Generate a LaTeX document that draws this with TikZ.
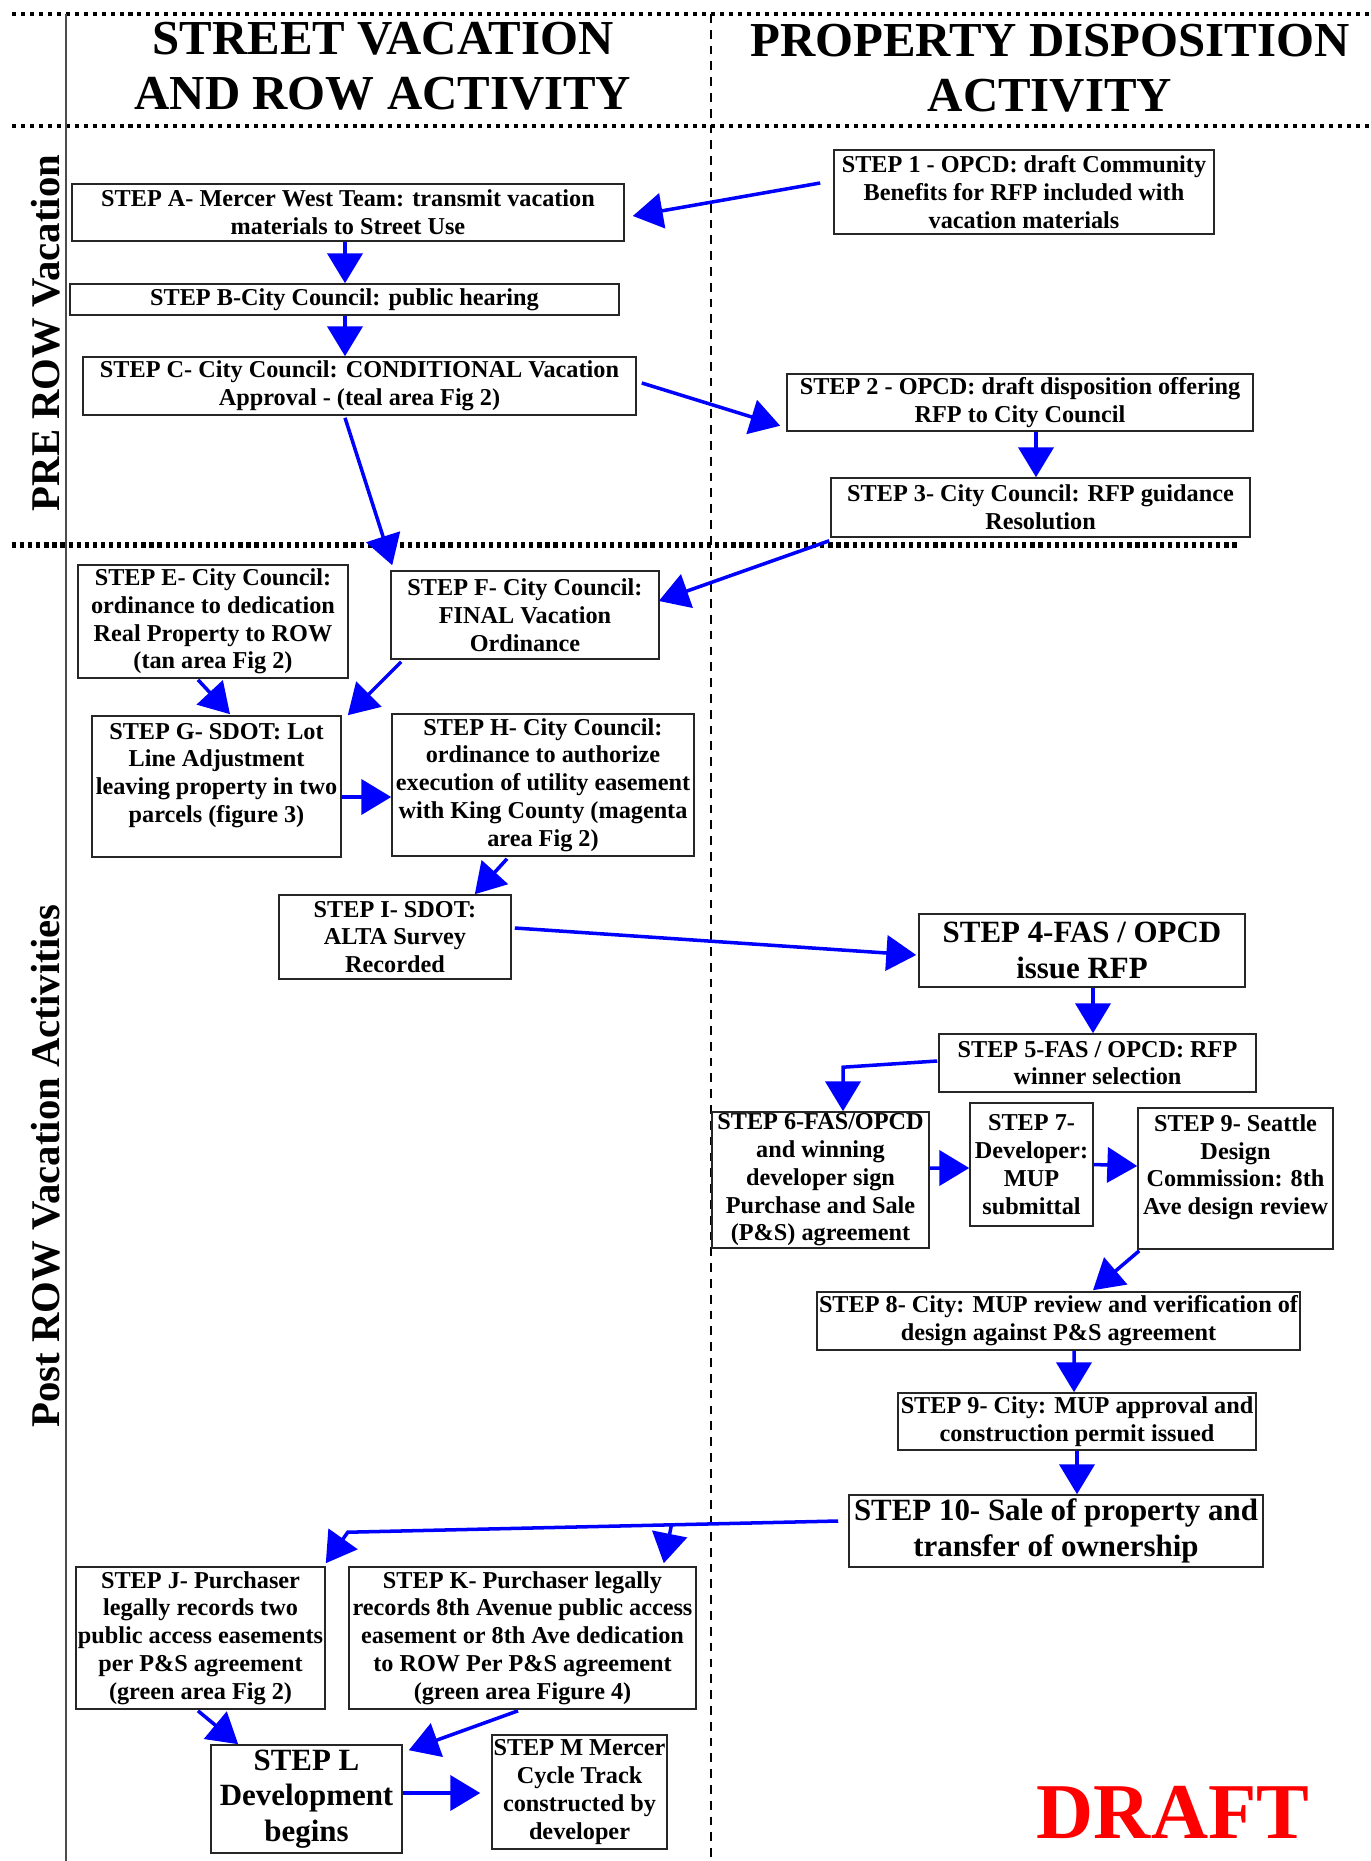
\documentclass[tikz,border=0pt]{standalone}
\usepackage{fontspec}
\setmainfont{Liberation Serif}
\usepackage{xcolor}
\usetikzlibrary{arrows.meta,calc}

\begin{document}
\begin{tikzpicture}[x=0.02cm,y=-0.02cm,
  stepbox/.style={draw=black!85,line width=0.9pt,fill=white,align=center,inner sep=0pt,
    font=\fontsize{13.8}{15.8}\selectfont\bfseries},
  bigbox/.style={stepbox,font=\fontsize{17.6}{20.4}\selectfont\bfseries},
  wh/.style 2 args={minimum width=#1*0.02cm,minimum height=#2*0.02cm},
  head/.style={align=center,inner sep=0pt,font=\fontsize{27.8}{31.2}\selectfont\bfseries},
  side/.style={rotate=90,inner sep=0pt,font=\fontsize{23.2}{26}\selectfont\bfseries},
  flow/.style={draw=blue,line width=2pt,-{Triangle[length=17pt,width=20pt]}},
  dotrule/.style={line width=2.2pt,dash pattern=on 2.3pt off 2.8pt},
  thickrule/.style={line width=3.6pt,dash pattern=on 2.4pt off 2.2pt},
  midrule/.style={line width=1.1pt,dash pattern=on 5pt off 4pt}]
\fill[white] (0,0) rectangle (1370,1861);
\useasboundingbox (0,0) rectangle (1370,1861);
% frame
\draw[dotrule] (12,14) -- (1370,14);
\draw[dotrule] (12,126) -- (1370,126);
\draw[thickrule] (12,545) -- (1238,545);
\draw[midrule] (711,14) -- (711,1861);
\draw[black!70,line width=0.9pt] (66,14) -- (66,1861);
\node at (383,66) (HL) [head] {STREET VACATION\\AND ROW ACTIVITY};
\node at (1050,68) (HR) [head] {PROPERTY DISPOSITION\\ACTIVITY};
\node at (46,333) (PRE) [side] {PRE ROW Vacation};
\node at (46,1166) (POST) [side] {Post ROW Vacation Activities};
% steps
\node at (1024,192) (P1) [stepbox,wh={380}{84}] {STEP 1 - OPCD: draft Community\\Benefits for RFP included with\\vacation materials};
\node at (348,212.5) (A) [stepbox,wh={552}{57}] {STEP A- Mercer West Team: transmit vacation\\materials to Street Use};
\node at (344.5,299.5) (B) [stepbox,wh={549}{31}] {STEP B-City Council: public hearing};
\node at (359.5,386) (C) [stepbox,wh={553}{58}] {STEP C- City Council: CONDITIONAL Vacation\\Approval - (teal area Fig 2)};
\node at (1020,402.5) (P2) [stepbox,wh={466}{57}] {STEP 2 - OPCD: draft disposition offering\\RFP to City Council};
\node at (1040.5,507.5) (P3) [stepbox,wh={419}{59}] {STEP 3- City Council: RFP guidance\\Resolution};
\node at (213,621.5) (E) [stepbox,wh={270}{113}] {STEP E- City Council:\\ordinance to dedication\\Real Property to ROW\\(tan area Fig 2)};
\node at (525,615) (F) [stepbox,wh={268}{88}] {STEP F- City Council:\\FINAL Vacation\\Ordinance};
\node at (216.5,786.5) (G) [stepbox,wh={249}{141}] {STEP G- SDOT: Lot\\Line Adjustment\\leaving property in two\\parcels (figure 3)\\\mbox{}};
\node at (543,785) (H) [stepbox,wh={302}{142}] {STEP H- City Council:\\ordinance to authorize\\execution of utility easement\\with King County (magenta\\area Fig 2)};
\node at (395,937) (I) [stepbox,wh={232}{84}] {STEP I- SDOT:\\ALTA Survey\\Recorded};
\node at (1082,950.5) (P4) [bigbox,wh={326}{73}] {STEP 4-FAS / OPCD\\issue RFP};
\node at (1097.5,1063) (P5) [stepbox,wh={317}{58}] {STEP 5-FAS / OPCD: RFP\\winner selection};
\node at (820.5,1180) (P6) [stepbox,wh={217}{136}] {STEP 6-FAS/OPCD\\and winning\\developer sign\\Purchase and Sale\\(P\&S) agreement};
\node at (1031.5,1164.5) (P7) [stepbox,wh={123}{123}] {STEP 7-\\Developer:\\MUP\\submittal};
\node at (1235.5,1178.5) (P9a) [stepbox,wh={195}{141}] {STEP 9- Seattle\\Design\\Commission: 8th\\Ave design review\\\mbox{}};
\node at (1058.5,1321) (P8) [stepbox,wh={483}{58}] {STEP 8- City: MUP review and verification of\\design against P\&S agreement};
\node at (1077,1421.5) (P9) [stepbox,wh={358}{57}] {STEP 9- City: MUP approval and\\construction permit issued};
\node at (1056,1531) (P10) [bigbox,wh={414}{72}] {STEP 10- Sale of property and\\transfer of ownership};
\node at (200.5,1638) (J) [stepbox,wh={249}{142}] {STEP J- Purchaser\\legally records two\\public access easements\\per P\&S agreement\\(green area Fig 2)};
\node at (522.5,1638) (K) [stepbox,wh={347}{142}] {STEP K- Purchaser legally\\records 8th Avenue public access\\easement or 8th Ave dedication\\to ROW Per P\&S agreement\\(green area Figure 4)};
\node at (306.5,1799) (L) [bigbox,wh={191}{108}] {STEP L\\Development\\begins};
\node at (579.5,1792) (M) [stepbox,wh={175}{114}] {STEP M Mercer\\Cycle Track\\constructed by\\developer};
\node at (1173,1838) (DRAFT) [anchor=base,inner sep=0pt,text=red,font=\fontsize{45}{48}\selectfont\bfseries] {DRAFT};
% arrows
\draw[flow] ($(P1.west)+(-13,-9)$) -- ($(A.east)+(8,3.5)$);
\draw[flow] ($(A.south)+(-3,0)$) -- ($(B.north)+(0.5,0)$);
\draw[flow] ($(B.south)+(0.5,0)$) -- ($(C.north)+(-14.5,0)$);
\draw[flow] ($(C.east)+(5,-3)$) -- ($(P2.south west)+(-6,-6)$);
\draw[flow] ($(P2.south)+(16,0)$) -- ($(P3.north)+(-4.5,0)$);
\draw[flow] ($(C.south)+(-14.5,2)$) -- ($(F.north west)+(2,-5)$);
\draw[flow] ($(P3.south west)+(-1,3)$) -- ($(F.east)+(-1,-14)$);
\draw[flow] ($(F.south west)+(11,2)$) -- ($(G.north east)+(6,0)$);
\draw[flow] ($(E.south)+(-15,1)$) -- ($(G.north)+(13.5,-1)$);
\draw[flow] ($(G.east)+(0,10.5)$) -- ($(H.west)+(0,12)$);
\draw[flow] ($(H.south)+(-36,2)$) -- ($(I.north east)+(-37,0)$);
\draw[flow] ($(I.east)+(3,-9)$) -- ($(P4.west)+(-2,4.5)$);
\draw[flow] ($(P4.south)+(11,0)$) -- ($(P5.north)+(-4.5,0)$);
\draw[flow] ($(P5.west)+(-1,-2)$) -- ($(P6.north)+(22.5,-44)$) -- ($(P6.north)+(22.5,0)$);
\draw[flow] ($(P6.east)+(0,-12)$) -- ($(P7.west)+(0,3.5)$);
\draw[flow] (P7.east) -- ($(P9a.west)+(0,-12.5)$);
\draw[flow] ($(P9a.south west)+(2,1)$) -- ($(P8.north)+(34.5,-1)$);
\draw[flow] ($(P8.south)+(15.5,0)$) -- ($(P9.north)+(-3,0)$);
\draw[flow] (P9.south) -- ($(P10.north)+(21,0)$);
\draw[flow] ($(P10.west)+(-10,-10)$) -- coordinate[pos=0.34] (fork) ($(J.north east)+(22,-34)$) -- ($(J.north east)+(0,-3)$);
\draw[flow] (fork) -- ($(K.north east)+(-33,-3)$);
\draw[flow] ($(J.south)+(-2.5,1)$) -- ($(L.north west)+(28,0)$);
\draw[flow] ($(K.south)+(-4.5,1)$) -- ($(L.north east)+(6,6)$);
\draw[flow] ($(L.east)+(0,-6)$) -- ($(M.west)+(-11,1)$);
\end{tikzpicture}
\end{document}
